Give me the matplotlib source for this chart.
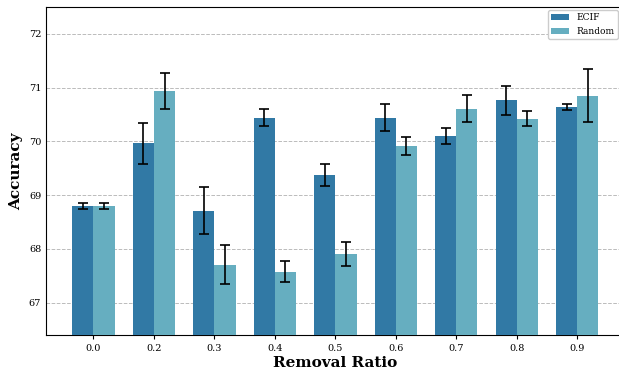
import numpy as np
import matplotlib
matplotlib.use('Agg')
import matplotlib.pyplot as plt

ratios = ['0.0', '0.2', '0.3', '0.4', '0.5', '0.6', '0.7', '0.8', '0.9']
ecif = [68.80, 69.97, 68.71, 70.44, 69.38, 70.44, 70.10, 70.77, 70.64]
ecif_err = [0.06, 0.38, 0.44, 0.16, 0.21, 0.25, 0.15, 0.27, 0.05]
rand = [68.80, 70.94, 67.71, 67.58, 67.91, 69.92, 70.61, 70.42, 70.85]
rand_err = [0.06, 0.34, 0.36, 0.19, 0.22, 0.17, 0.25, 0.14, 0.49]

plt.rcParams['font.family'] = 'DejaVu Serif'

fig = plt.figure(figsize=(6.19, 3.71), dpi=100)
ax = fig.add_axes([0.0743, 0.097, 0.935, 0.884])

x = np.arange(len(ratios))
w = 0.35
ax.bar(x - w / 2, ecif, w, yerr=ecif_err, capsize=3.5, color='#3179a5',
       label='ECIF', error_kw=dict(elinewidth=1.2, capthick=1.2), zorder=3)
ax.bar(x + w / 2, rand, w, yerr=rand_err, capsize=3.5, color='#66aec0',
       label='Random', error_kw=dict(elinewidth=1.2, capthick=1.2), zorder=3)

ax.set_ylim(66.4, 72.5)
ax.set_xlim(-0.785, 8.785)
ax.set_xticks(x)
ax.set_xticklabels(ratios)
ax.set_yticks([67, 68, 69, 70, 71, 72])
ax.tick_params(axis='both', labelsize=7)
ax.tick_params(axis='y', length=0)
ax.tick_params(axis='x', length=3)
ax.yaxis.grid(True, linestyle='--', color='#bbbbbb', linewidth=0.7, zorder=0)
ax.set_axisbelow(True)

ax.set_xlabel('Removal Ratio', fontsize=11, fontweight='bold', labelpad=2)
ax.set_ylabel('Accuracy', fontsize=11, fontweight='bold')
ax.legend(loc='upper right', bbox_to_anchor=(0.988, 0.99), fontsize=6.5,
          framealpha=1, borderpad=0.35, borderaxespad=0.0)

fig.savefig('out.png', dpi=100)
